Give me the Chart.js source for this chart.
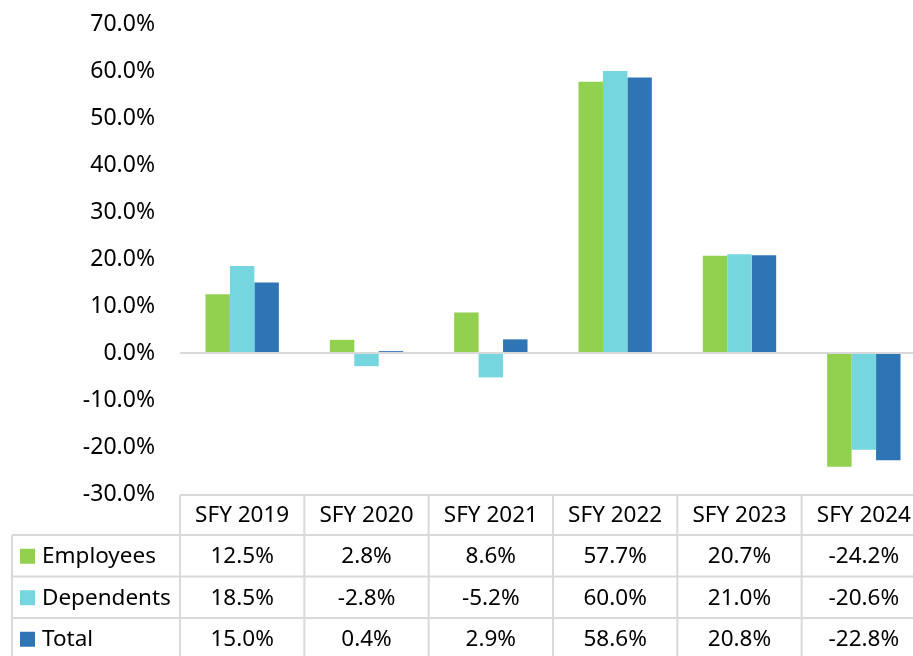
<!DOCTYPE html>
<html>
<head>
<meta charset="utf-8">
<script src="https://cdn.jsdelivr.net/npm/chart.js@4.4.1/dist/chart.umd.min.js"></script>
<style>
  html, body { margin:0; padding:0; background:#fff; overflow:hidden; }
  #wrap { position:relative; width:926px; height:656px; }
</style>
</head>
<body>
<div id="wrap"><canvas id="myChart"></canvas></div>
<script>
// data
var categories = ['SFY 2019','SFY 2020','SFY 2021','SFY 2022','SFY 2023','SFY 2024'];
var employees  = [12.5, 2.8, 8.6, 57.7, 20.7, -24.2];
var dependents = [18.5, -2.8, -5.2, 60.0, 21.0, -20.6];
var total      = [15.0, 0.4, 2.9, 58.6, 20.8, -22.8];
var seriesNames = ['Employees','Dependents','Total'];
var yMin = -30, yMax = 70, yStep = 10;

var colors = ['#92D050','#76D6DF','#2E75B6'];
var font = '"Noto Sans", "Open Sans", sans-serif';
var lineCol = '#d9d9d9';

// data table under the plot, laid out on the x scale
var tablePlugin = {
  id: 'dataTable',
  afterDraw: function(chart){
    var c = chart.ctx;
    var area = chart.chartArea;
    var xs = chart.scales.x;
    var colW = (area.right - area.left) / categories.length;
    var top = area.bottom + 1;
    var headH = 40, rowH = 41.5;
    var rows = [employees, dependents, total];
    var bottom = top + headH + rowH * 3;
    var leftX = 12;

    c.save();
    c.strokeStyle = lineCol;
    c.lineWidth = 2;
    c.beginPath();
    // horizontal lines
    c.moveTo(area.left, top); c.lineTo(area.right, top);
    for (var r = 0; r <= 3; r++) {
      var y = top + headH + r * rowH;
      c.moveTo(leftX, y); c.lineTo(area.right, y);
    }
    // vertical lines
    c.moveTo(leftX, top + headH); c.lineTo(leftX, bottom);
    for (var i = 0; i <= categories.length; i++) {
      var x = area.left + i * colW;
      c.moveTo(x, top); c.lineTo(x, bottom);
    }
    c.stroke();

    c.fillStyle = '#000';
    c.font = '22.5px ' + font;
    c.textBaseline = 'middle';
    c.textAlign = 'center';
    for (var i = 0; i < categories.length; i++) {
      var cx = xs.getPixelForValue(i);
      c.fillText(categories[i], cx, top + headH / 2 + 1);
      for (var r = 0; r < rows.length; r++) {
        var cy = top + headH + r * rowH + rowH / 2 + 1;
        c.fillText(rows[r][i].toFixed(1) + '%', cx, cy);
      }
    }
    c.textAlign = 'left';
    for (var r = 0; r < rows.length; r++) {
      var cy = top + headH + r * rowH + rowH / 2;
      c.fillStyle = colors[r];
      c.fillRect(20, cy - 7, 15, 15);
      c.fillStyle = '#000';
      c.fillText(seriesNames[r], 42, cy + 1);
    }
    c.restore();
  }
};

var ctx = document.getElementById('myChart').getContext('2d');
var myChart = new Chart(ctx, {
  type: 'bar',
  data: {
    labels: categories,
    datasets: [
      { label: seriesNames[0], data: employees,  backgroundColor: colors[0] },
      { label: seriesNames[1], data: dependents, backgroundColor: colors[1] },
      { label: seriesNames[2], data: total,      backgroundColor: colors[2] }
    ]
  },
  options: {
    responsive: true,
    maintainAspectRatio: false,
    animation: false,
    layout: { padding: { top: 24, bottom: 162, left: 0, right: 0 } },
    datasets: { bar: { categoryPercentage: 0.59, barPercentage: 1.0 } },
    plugins: { legend: { display: false }, tooltip: { enabled: false } },
    scales: {
      x: { display: false },
      y: {
        min: yMin, max: yMax,
        afterFit: function(scale){
          scale.width = 180;
          scale.paddingTop = 0;
          scale.paddingBottom = 0;
        },
        border: { display: false },
        grid: {
          drawTicks: false,
          lineWidth: 2,
          color: function(c){ return c.tick && c.tick.value === 0 ? lineCol : 'transparent'; }
        },
        ticks: {
          stepSize: yStep,
          padding: 25,
          color: '#000',
          font: { family: font, size: 23 },
          callback: function(v){ return v.toFixed(1) + '%'; }
        }
      }
    }
  },
  plugins: [tablePlugin]
});
</script>
</body>
</html>
